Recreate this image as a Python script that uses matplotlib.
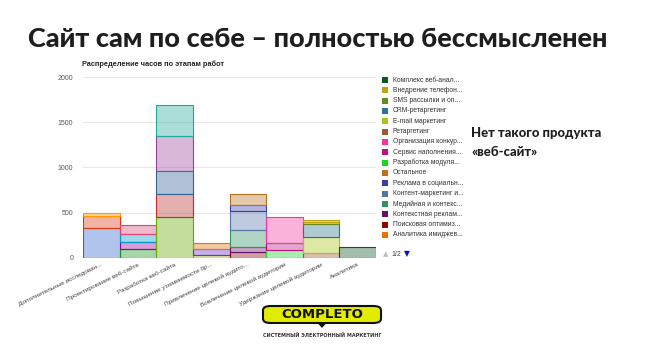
import matplotlib
matplotlib.use("Agg")
import matplotlib.pyplot as plt
from matplotlib.patches import Rectangle, FancyBboxPatch, Polygon
from matplotlib.colors import to_rgba

W, H = 645, 350

categories = [
    "Дополнительные исследован...",
    "Проектирование веб-сайта",
    "Разработка веб-сайта",
    "Повышение узнаваемости бр...",
    "Привлечение целевой аудито...",
    "Вовлечение целевой аудитории",
    "Удержание целевой аудитории",
    "Аналитика",
]

# 30 series, in stacking order; only the last 16 are on legend page 1/2
series_names = [f"Серия {k + 1} (стр. 2)" for k in range(14)] + [
    "Аналитика имиджев...",
    "Поисковая оптимиз...",
    "Контекстная реклам...",
    "Медийная и контекс...",
    "Контент-маркетинг и...",
    "Реклама в социальн...",
    "Остальное",
    "Разработка модуля...",
    "Сервис наполнения...",
    "Организация конкур...",
    "Ретаргетинг",
    "E-mail маркетинг",
    "CRM-ретаргетинг",
    "SMS рассылки и оп...",
    "Внедрение телефон...",
    "Комплекс веб-анал...",
]
series_cat = [0, 0, 0, 1, 1, 1, 1, 2, 2, 2, 2, 2, 3, 3, 3,
              4, 4, 4, 4, 4, 4, 5, 5, 5, 6, 6, 6, 6, 6, 7]
series_hours = [330, 135, 35, 95, 75, 90, 100, 450, 255, 250, 395, 335,
                35, 65, 60, 67, 50, 193, 210, 65, 125, 85, 75, 290,
                50, 178, 145, 25, 20, 115]
colors = ["#3366cc", "#dc3912", "#ff9900", "#109618", "#990099", "#0099c6",
          "#dd4477", "#66aa00", "#b82e2e", "#316395", "#994499", "#22aa99",
          "#aaaa11", "#6633cc", "#e67300", "#8b0707", "#651067", "#329262",
          "#5574a6", "#3b3eac", "#b77322", "#16d620", "#b91383", "#f4359e",
          "#9c5935", "#a9c413", "#2a778d", "#668d1c", "#bea413", "#0c5922"]
legend_count = 16

yticks = [0, 500, 1000, 1500, 2000]


def fx(x):
    return x / W


def fy(y):
    return 1 - y / H


fig = plt.figure(figsize=(W / 100, H / 100), dpi=100, facecolor="white")
renderer = fig.canvas.get_renderer()


def fit_width(t, width_px):
    # shrink/grow font so the text spans width_px (no narrow fonts installed)
    w = t.get_window_extent(renderer).width
    t.set_fontsize(t.get_fontsize() * width_px / w)


ax = fig.add_axes([fx(83), fy(257.7), fx(376) - fx(83), fy(77) - fy(257.7)])

# stacked bars
bottoms = [0.0] * len(categories)
for name, c, v, col in zip(series_names, series_cat, series_hours, colors):
    ax.bar(c, v, bottom=bottoms[c], width=1.0,
           facecolor=to_rgba(col, 0.38), edgecolor=col, lw=0.8, label=name)
    bottoms[c] += v

ax.set_xlim(-0.5, len(categories) - 0.5)
ax.set_ylim(0, 2000)
ax.set_yticks(yticks)
ax.set_yticklabels([str(t) for t in yticks], fontsize=5, color="#555555",
                   family="Liberation Sans")
ax.set_xticks(range(len(categories)))
ax.set_xticklabels(categories, rotation=26, ha="right", rotation_mode="anchor",
                   fontsize=4.6, color="#444444", family="Liberation Sans")
ax.tick_params(axis="x", length=0, pad=3)
ax.tick_params(axis="y", length=0, pad=7)
ax.grid(True, axis="y", color="#e8e8e8", lw=0.8)
ax.set_axisbelow(True)
for s in ax.spines.values():
    s.set_visible(False)

# chart title
fig.text(fx(82), fy(64), "Распределение часов по этапам работ", fontsize=5.3,
         fontweight="bold", family="Liberation Sans", color="#222222",
         va="center", ha="left")

# legend, page 1 of 2 (top of the stack first)
for k in range(legend_count):
    i = len(series_names) - 1 - k
    yc = 80 + k * 10.33
    fig.patches.append(Rectangle((fx(382), fy(yc + 3)), fx(6), 6 / H,
                                 transform=fig.transFigure, facecolor=colors[i],
                                 edgecolor="none"))
    fig.text(fx(393), fy(yc), series_names[i], fontsize=4.9,
             family="Liberation Sans", color="#333333", va="center", ha="left")
fig.text(fx(386), fy(254), "▲", fontsize=5, color="#bbbbbb", ha="center",
         va="center")
fig.text(fx(396), fy(254), "1/2", fontsize=5, color="#444444",
         family="Liberation Sans", ha="center", va="center")
fig.text(fx(407), fy(254), "▼", fontsize=5.5, color="#0011cc", ha="center",
         va="center")

# headline
t = fig.text(fx(318), fy(46.7), "Сайт сам по себе – полностью бессмысленен",
             fontsize=19, fontweight="black", family="Lato", color="#1e1e1e",
             ha="center", va="baseline")
fit_width(t, 580)
t1 = fig.text(fx(471), fy(136.7), "Нет такого продукта", fontsize=11.5,
              fontweight="black", family="Lato", color="#1e1e1e",
              ha="left", va="baseline")
fit_width(t1, 130)
fig.text(fx(471), fy(155.7), "«веб-сайт»", fontsize=t1.get_fontsize(),
         fontweight="black", family="Lato", color="#1e1e1e",
         ha="left", va="baseline")

# logo
fig.patches.append(FancyBboxPatch((fx(263), fy(323)), fx(118), 17 / H,
                                  boxstyle="round,pad=0,rounding_size=0.012",
                                  transform=fig.transFigure, facecolor="#e2ec00",
                                  edgecolor="#111111", lw=1.5))
fig.patches.append(Polygon([(fx(318), fy(323.5)), (fx(326), fy(323.5)),
                            (fx(322), fy(328))], closed=True,
                           transform=fig.transFigure, facecolor="#111111",
                           edgecolor="none"))
fig.text(fx(322), fy(314.5), "COMPLETO", fontsize=9.5, fontweight="heavy",
         family="DejaVu Sans", color="#111111", ha="center", va="center")
t3 = fig.text(fx(322), fy(335.5), "СИСТЕМНЫЙ ЭЛЕКТРОННЫЙ МАРКЕТИНГ",
              fontsize=4.3, fontweight="bold", family="DejaVu Sans",
              color="#333333", ha="center", va="center")
fit_width(t3, 115)

fig.savefig("out.png", dpi=100, facecolor="white")
